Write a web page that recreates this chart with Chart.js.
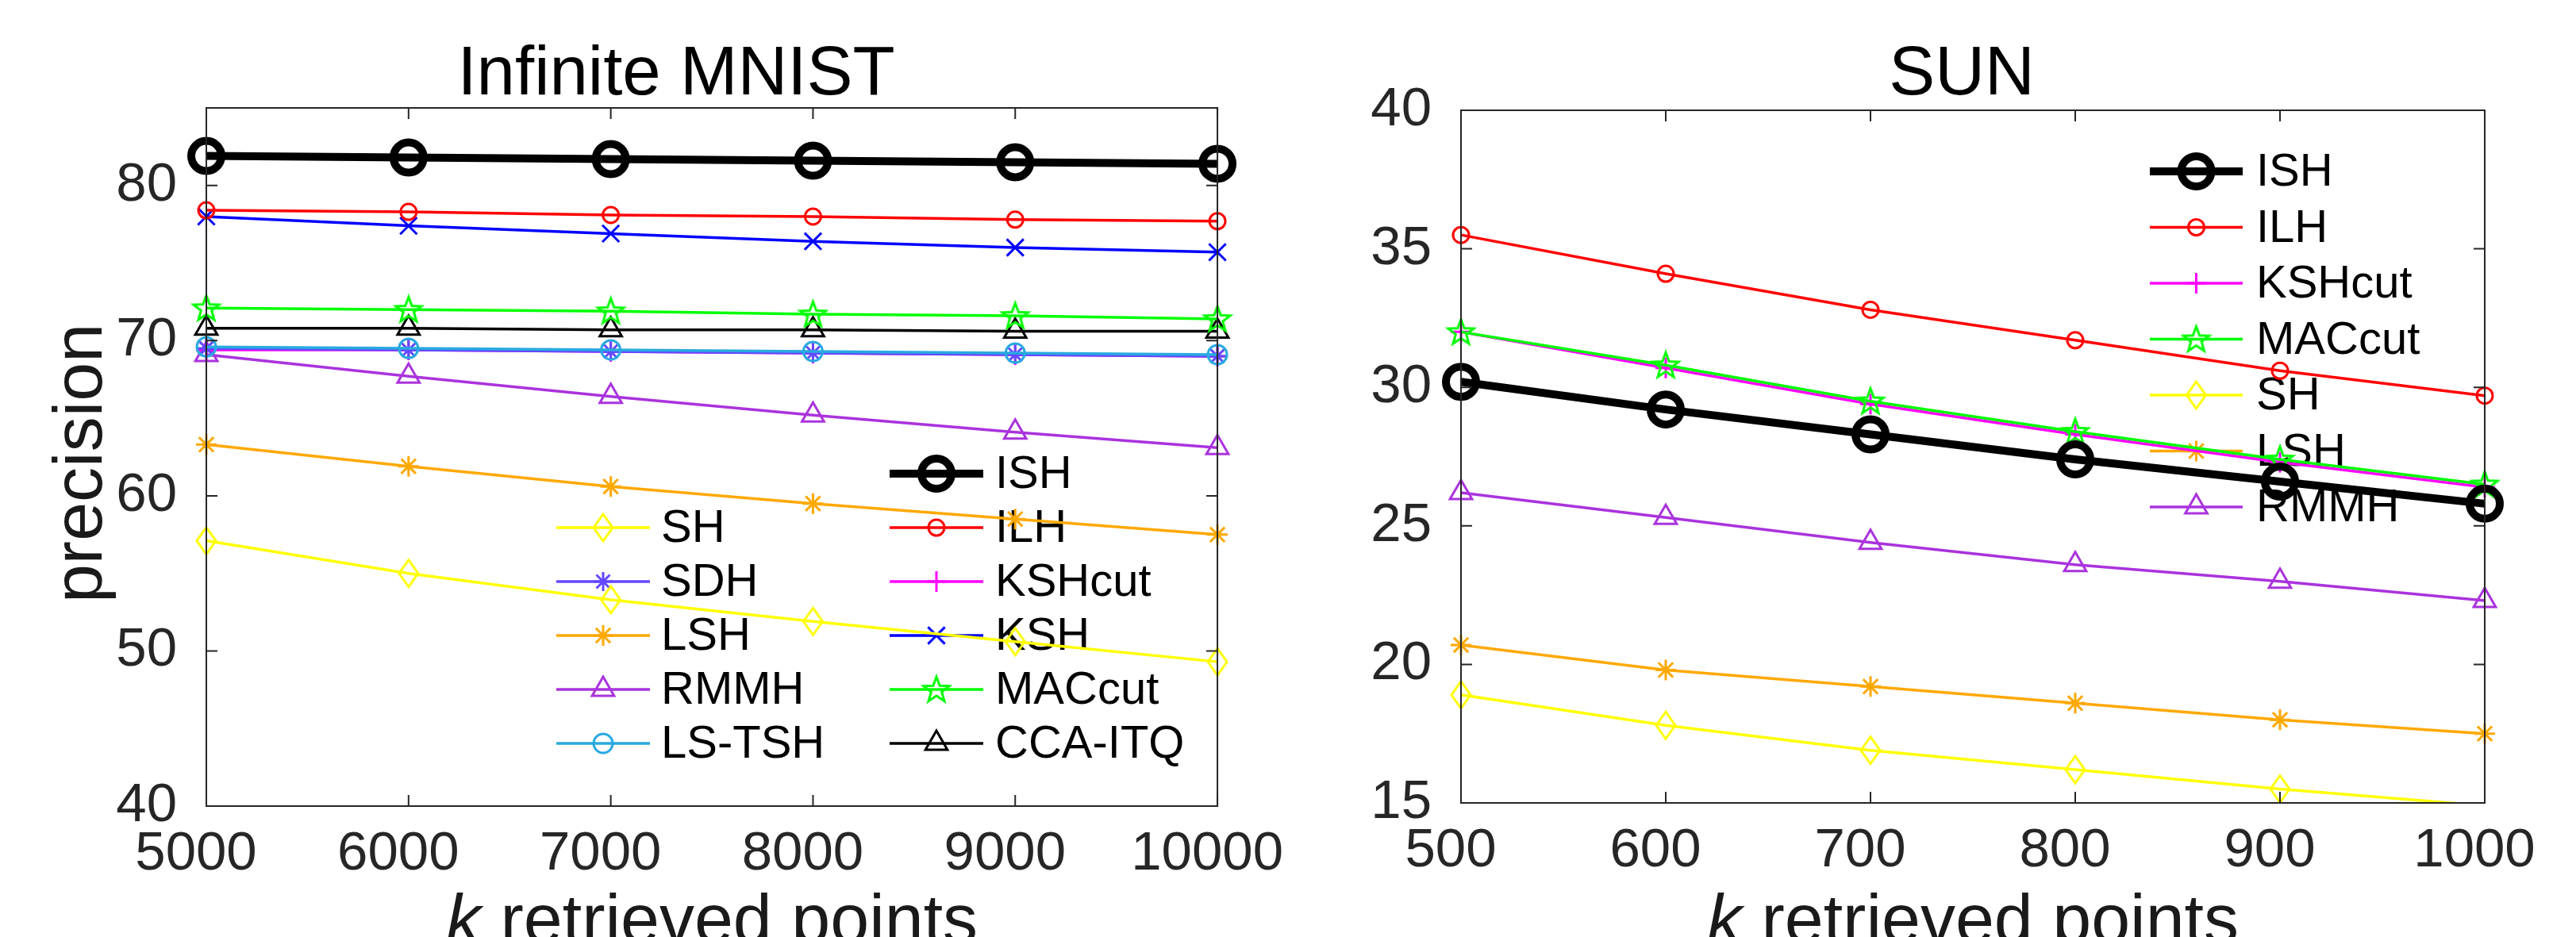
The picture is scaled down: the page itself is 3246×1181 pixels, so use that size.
<!DOCTYPE html>
<html>
<head>
<meta charset="utf-8">
<script src="https://cdn.jsdelivr.net/npm/chart.js@4.4.1/dist/chart.umd.min.js"></script>
<style>
  html, body { margin: 0; padding: 0; background: #fff; }
  body { width: 3246px; height: 1181px; position: relative; overflow: hidden; }
  .panel { position: absolute; top: 0; height: 1181px; }
  #left { left: 0; width: 1650px; }
  #right { left: 1650px; width: 1596px; }
</style>
</head>
<body>
<div class="panel" id="left"><canvas id="mnist" width="1650" height="1181"></canvas></div>
<div class="panel" id="right"><canvas id="sun" width="1596" height="1181"></canvas></div>
<script>
// ---- data ----
const kMnist = [5000, 6000, 7000, 8000, 9000, 10000];
const kSun = [500, 600, 700, 800, 900, 1000];
const mnistYTicks = [40, 50, 60, 70, 80];
const sunYTicks = [15, 20, 25, 30, 35, 40];

const mnistISH = [81.9, 81.8, 81.7, 81.6, 81.5, 81.4];
const mnistILH = [78.4, 78.3, 78.1, 78.0, 77.8, 77.7];
const mnistKSH = [78.0, 77.4, 76.9, 76.4, 76.0, 75.7];
const mnistMACcut = [72.1, 72.0, 71.9, 71.7, 71.6, 71.4];
const mnistCCAITQ = [70.8, 70.8, 70.7, 70.7, 70.6, 70.6];
const mnistLSTSH = [69.6, 69.5, 69.4, 69.3, 69.2, 69.1];
const mnistSDH = [69.5, 69.4, 69.3, 69.2, 69.1, 69.0];
const mnistKSHcut = [69.4, 69.4, 69.3, 69.2, 69.1, 69.0];
const mnistRMMH = [69.1, 67.7, 66.4, 65.2, 64.1, 63.1];
const mnistLSH = [63.3, 61.9, 60.6, 59.5, 58.5, 57.5];
const mnistSH = [57.1, 55.0, 53.3, 51.9, 50.6, 49.3];

const sunISH = [30.2, 29.2, 28.3, 27.4, 26.6, 25.8];
const sunILH = [35.5, 34.1, 32.8, 31.7, 30.6, 29.7];
const sunMACcut = [32.0, 30.8, 29.5, 28.4, 27.4, 26.5];
const sunKSHcut = [32.0, 30.7, 29.4, 28.3, 27.3, 26.4];
const sunRMMH = [26.2, 25.3, 24.4, 23.6, 23.0, 22.3];
const sunLSH = [20.7, 19.8, 19.2, 18.6, 18.0, 17.5];
const sunSH = [18.9, 17.8, 16.9, 16.2, 15.5, 14.9];

const mnistLegendCol1 = ['SH', 'SDH', 'LSH', 'RMMH', 'LS-TSH'];
const mnistLegendCol2 = ['ISH', 'ILH', 'KSHcut', 'KSH', 'MACcut', 'CCA-ITQ'];
const sunLegend = ['ISH', 'ILH', 'KSHcut', 'MACcut', 'SH', 'LSH', 'RMMH'];

// ---- look of each method (matlab style markers) ----
function markerCanvas(kind, color) {
  const c = document.createElement('canvas');
  c.width = 40; c.height = 40;
  const g = c.getContext('2d');
  g.strokeStyle = color;
  g.lineWidth = 3;
  g.lineJoin = 'miter';
  g.beginPath();
  if (kind === 'pentagram') {
    for (let i = 0; i < 10; i++) {
      const r = i % 2 === 0 ? 17 : 7;
      const a = -Math.PI / 2 + i * Math.PI / 5;
      const px = 20 + r * Math.cos(a), py = 21 + r * Math.sin(a);
      if (i === 0) g.moveTo(px, py); else g.lineTo(px, py);
    }
  } else { // diamond, a bit taller than wide
    g.moveTo(20, 3); g.lineTo(32, 20); g.lineTo(20, 37); g.lineTo(8, 20);
  }
  g.closePath();
  g.stroke();
  return c;
}

const styles = {
  'ISH':     { color: '#000000', point: 'circle', r: 19, pw: 10, lw: 10 },
  'ILH':     { color: '#ff0000', point: 'circle', r: 10, pw: 3, lw: 3.5 },
  'KSHcut':  { color: '#ff00ff', point: 'cross', r: 13, pw: 3, lw: 3.5 },
  'KSH':     { color: '#0000ff', point: 'crossRot', r: 15, pw: 3, lw: 3.5 },
  'MACcut':  { color: '#00ff00', point: markerCanvas('pentagram', '#00ff00'), r: 16, pw: 3, lw: 3.5 },
  'CCA-ITQ': { color: '#000000', point: 'triangle', r: 16, pw: 3, lw: 3.5 },
  'SH':      { color: '#ffff00', point: markerCanvas('diamond', '#ffff00'), r: 16, pw: 3, lw: 3.5 },
  'SDH':     { color: '#6349ff', point: 'star', r: 12, pw: 3, lw: 3.5 },
  'LSH':     { color: '#ffa800', point: 'star', r: 13, pw: 3, lw: 3.5 },
  'RMMH':    { color: '#aa33dd', point: 'triangle', r: 16, pw: 3, lw: 3.5 },
  'LS-TSH':  { color: '#29a9e1', point: 'circle', r: 12, pw: 3, lw: 3.5 }
};

function makeSet(name, ks, vals) {
  const s = styles[name];
  return {
    label: name,
    data: ks.map((k, i) => ({ x: k, y: vals[i] })),
    borderColor: s.color,
    borderWidth: s.lw,
    pointStyle: s.point,
    pointBorderColor: s.color,
    pointBackgroundColor: 'rgba(0,0,0,0)',
    pointBorderWidth: s.pw,
    // matlab does not draw markers outside the axis limits
    pointRadius: ctx => (ctx.raw && ctx.raw.y < ctx.chart.scales.y.min) ? 0 : s.r,
    pointHoverRadius: s.r,
    tension: 0,
    clip: { left: 60, top: 60, right: 60, bottom: 0 }
  };
}

const FONT = '"Liberation Sans", Arial, Helvetica, sans-serif';

// box, inside ticks, title and axis labels
const framePlugin = {
  id: 'frame',
  afterDraw(chart, args, o) {
    const ctx = chart.ctx, a = chart.chartArea;
    const xs = chart.scales.x, ys = chart.scales.y;
    ctx.save();
    ctx.strokeStyle = '#262626';
    ctx.lineWidth = 2;
    ctx.strokeRect(a.left, a.top, a.right - a.left, a.bottom - a.top);
    ctx.beginPath();
    xs.ticks.forEach(t => {
      const px = xs.getPixelForValue(t.value);
      ctx.moveTo(px, a.bottom); ctx.lineTo(px, a.bottom - 14);
      ctx.moveTo(px, a.top); ctx.lineTo(px, a.top + 14);
    });
    ys.ticks.forEach(t => {
      const py = ys.getPixelForValue(t.value);
      ctx.moveTo(a.left, py); ctx.lineTo(a.left + 14, py);
      ctx.moveTo(a.right, py); ctx.lineTo(a.right - 14, py);
    });
    ctx.stroke();

    // title
    ctx.fillStyle = '#000';
    ctx.textAlign = 'center';
    ctx.textBaseline = 'alphabetic';
    ctx.font = '87px ' + FONT;
    ctx.fillText(o.title, o.titleX, 119);

    // x label with italic k
    ctx.fillStyle = '#1a1a1a';
    const rest = ' retrieved points';
    ctx.font = 'italic 88px ' + FONT;
    const wk = ctx.measureText('k').width;
    ctx.font = '88px ' + FONT;
    const wr = ctx.measureText(rest).width;
    const cx = (a.left + a.right) / 2;
    let x0 = cx - (wk + wr) / 2;
    ctx.textAlign = 'left';
    ctx.font = 'italic 88px ' + FONT;
    ctx.fillText('k', x0, 1188);
    ctx.font = '88px ' + FONT;
    ctx.fillText(rest, x0 + wk, 1188);

    if (o.ylabel) {
      ctx.translate(128, (a.top + a.bottom) / 2 + 8);
      ctx.rotate(-Math.PI / 2);
      ctx.textAlign = 'center';
      ctx.fillText(o.ylabel, 0, 0);
    }
    ctx.restore();
  }
};

// legend drawn under the data, like in the figure
const legendPlugin = {
  id: 'matlabLegend',
  beforeDatasetsDraw(chart, args, o) {
    const ctx = chart.ctx;
    ctx.save();
    o.columns.forEach(col => {
      col.names.forEach((name, i) => {
        const s = styles[name];
        const y = col.top + i * col.step;
        ctx.strokeStyle = s.color;
        ctx.lineWidth = s.lw;
        ctx.beginPath();
        ctx.moveTo(col.x0, y); ctx.lineTo(col.x1, y);
        ctx.stroke();
        ctx.lineWidth = s.pw;
        ctx.fillStyle = 'rgba(0,0,0,0)';
        Chart.helpers.drawPoint(ctx, { pointStyle: s.point, radius: s.r, rotation: 0, borderWidth: s.pw }, (col.x0 + col.x1) / 2, y);
        ctx.fillStyle = '#000';
        ctx.font = '58px ' + FONT;
        ctx.textAlign = 'left';
        ctx.textBaseline = 'middle';
        ctx.fillText(name, col.textX, y + 2);
      });
    });
    ctx.restore();
  }
};

function makeChart(id, cfg) {
  return new Chart(document.getElementById(id), {
    type: 'line',
    data: { datasets: cfg.sets },
    options: {
      responsive: false,
      animation: false,
      devicePixelRatio: 1,
      events: [],
      layout: { padding: cfg.padding },
      plugins: {
        legend: { display: false },
        tooltip: { enabled: false },
        title: { display: false },
        frame: cfg.frame,
        matlabLegend: cfg.legend
      },
      scales: {
        x: {
          type: 'linear',
          min: cfg.xTicks[0],
          max: cfg.xTicks[cfg.xTicks.length - 1],
          afterBuildTicks: s => { s.ticks = cfg.xTicks.map(v => ({ value: v })); },
          afterFit: s => { s.height = cfg.xHeight; },
          grid: { display: false, drawTicks: false },
          border: { display: false },
          ticks: {
            color: '#262626', font: { family: FONT, size: 69 }, padding: 20, labelOffset: -13,
            maxRotation: 0, autoSkip: false, callback: v => String(v)
          }
        },
        y: {
          type: 'linear',
          min: cfg.yMin,
          max: cfg.yMax,
          afterBuildTicks: s => { s.ticks = cfg.yTicks.map(v => ({ value: v })); },
          afterFit: s => { s.width = cfg.yWidth; },
          grid: { display: false, drawTicks: false },
          border: { display: false },
          ticks: { color: '#262626', font: { family: FONT, size: 69 }, padding: 37, callback: v => String(v) }
        }
      }
    },
    plugins: [legendPlugin, framePlugin]
  });
}

makeChart('mnist', {
  sets: [
    makeSet('ISH', kMnist, mnistISH),
    makeSet('ILH', kMnist, mnistILH),
    makeSet('KSH', kMnist, mnistKSH),
    makeSet('MACcut', kMnist, mnistMACcut),
    makeSet('CCA-ITQ', kMnist, mnistCCAITQ),
    makeSet('LS-TSH', kMnist, mnistLSTSH),
    makeSet('SDH', kMnist, mnistSDH),
    makeSet('KSHcut', kMnist, mnistKSHcut),
    makeSet('RMMH', kMnist, mnistRMMH),
    makeSet('LSH', kMnist, mnistLSH),
    makeSet('SH', kMnist, mnistSH)
  ],
  xTicks: kMnist, yTicks: mnistYTicks, yMin: 40, yMax: 85,
  padding: { left: 0, right: 101, top: 136, bottom: 0 },
  xHeight: 165, yWidth: 260,
  frame: { title: 'Infinite MNIST', titleX: 852, ylabel: 'precision' },
  legend: { columns: [
    { names: mnistLegendCol1, x0: 701, x1: 819, textX: 833, top: 665, step: 68 },
    { names: mnistLegendCol2, x0: 1121, x1: 1239, textX: 1254, top: 597, step: 68 }
  ] }
});

makeChart('sun', {
  sets: [
    makeSet('ISH', kSun, sunISH),
    makeSet('MACcut', kSun, sunMACcut),
    makeSet('KSHcut', kSun, sunKSHcut),
    makeSet('ILH', kSun, sunILH),
    makeSet('RMMH', kSun, sunRMMH),
    makeSet('LSH', kSun, sunLSH),
    makeSet('SH', kSun, sunSH)
  ],
  xTicks: kSun, yTicks: sunYTicks, yMin: 15, yMax: 40,
  padding: { left: 0, right: 115, top: 139, bottom: 0 },
  xHeight: 169, yWidth: 191,
  frame: { title: 'SUN', titleX: 822, ylabel: null },
  legend: { columns: [
    { names: sunLegend, x0: 1059, x1: 1176, textX: 1193, top: 216, step: 70.5 }
  ] }
});
</script>
</body>
</html>
